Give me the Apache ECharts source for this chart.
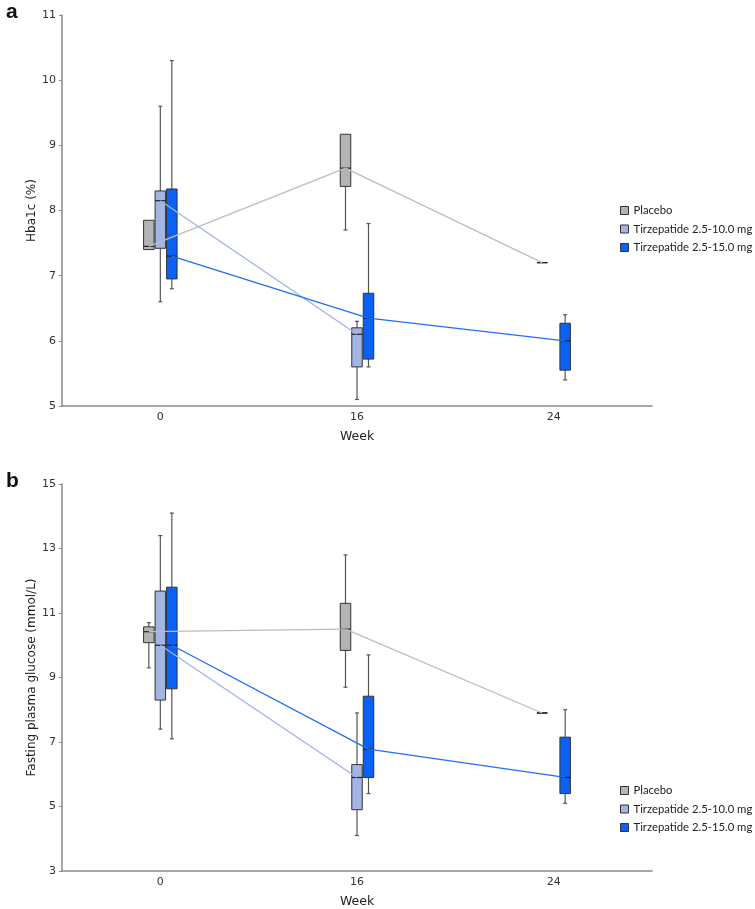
<!DOCTYPE html>
<html><head><meta charset="utf-8">
<script src="https://cdn.jsdelivr.net/npm/echarts@6/dist/echarts.min.js"></script>
<style>html,body{margin:0;padding:0;background:#fff}#c{width:755px;height:909px}</style>
</head><body><div id="c"></div>
<script>
const weeks = ['0', '16', '24'];
const groups = ['Placebo', 'Tirzepatide 2.5-10.0 mg', 'Tirzepatide 2.5-15.0 mg'];
// rows: [weekIndex, min, Q1, median, Q3, max]
const hbaPlacebo = [[0, 7.4, 7.4, 7.45, 7.85, 7.85], [1, 7.7, 8.37, 8.65, 9.17, 9.17], [2, 7.2, 7.2, 7.2, 7.2, 7.2]];
const hbaLow     = [[0, 6.6, 7.42, 8.15, 8.3, 9.6], [1, 5.1, 5.6, 6.1, 6.2, 6.3]];
const hbaHigh    = [[0, 6.8, 6.95, 7.3, 8.33, 10.3], [1, 5.6, 5.72, 6.35, 6.73, 7.8], [2, 5.4, 5.55, 6.0, 6.27, 6.4]];
const fpgPlacebo = [[0, 9.3, 10.08, 10.42, 10.57, 10.7], [1, 8.7, 9.84, 10.5, 11.3, 12.8], [2, 7.9, 7.9, 7.9, 7.9, 7.9]];
const fpgLow     = [[0, 7.4, 8.3, 10.0, 11.68, 13.4], [1, 4.1, 4.9, 5.9, 6.3, 7.9]];
const fpgHigh    = [[0, 7.1, 8.65, 10.0, 11.8, 14.1], [1, 5.4, 5.9, 6.78, 8.42, 9.7], [2, 5.1, 5.4, 5.9, 7.15, 8.0]];
const hbaAxis = {min: 5, max: 11, interval: 1, name: 'Hba1c (%)'};
const fpgAxis = {min: 3, max: 15, interval: 2, name: 'Fasting plasma glucose (mmol/L)'};

const fills = ['#b4b4b6', '#a3b5e3', '#0a62f5'];
const lineColors = ['#bdbdbd', '#9db4e8', '#1f6ff0'];
const offsets = [-11.5, 0, 11.5];
const BOXW = 10.5;

function boxRender(offset) {
  return function (params, api) {
    const x = api.value(0);
    const c = v => { const p = api.coord([x, v]); return [p[0] + offset, p[1]]; };
    const mn = c(api.value(1)), q1 = c(api.value(2)), md = c(api.value(3)), q3 = c(api.value(4)), mx = c(api.value(5));
    const cx = mn[0], w = BOXW / 2, cap = 2;
    const style = api.style();
    const wh = {stroke: '#555', lineWidth: 1.2};
    const ch = [];
    if (mx[1] < q3[1] - 0.5) {
      ch.push({type: 'line', shape: {x1: cx, y1: q3[1], x2: cx, y2: mx[1]}, style: wh});
      ch.push({type: 'line', shape: {x1: cx - cap, y1: mx[1], x2: cx + cap, y2: mx[1]}, style: wh});
    }
    if (mn[1] > q1[1] + 0.5) {
      ch.push({type: 'line', shape: {x1: cx, y1: q1[1], x2: cx, y2: mn[1]}, style: wh});
      ch.push({type: 'line', shape: {x1: cx - cap, y1: mn[1], x2: cx + cap, y2: mn[1]}, style: wh});
    }
    ch.push({type: 'rect', shape: {x: cx - w, y: q3[1], width: 2 * w, height: Math.max(q1[1] - q3[1], 0)},
      style: {fill: style.fill, stroke: '#333', lineWidth: 1}});
    ch.push({type: 'line', shape: {x1: cx - w, y1: md[1], x2: cx + w, y2: md[1]}, style: {stroke: '#222', lineWidth: 1.2}});
    return {type: 'group', children: ch};
  };
}
function lineRender(pts, offset, color) {
  return function (params, api) {
    const i = params.dataIndex;
    if (i === 0) return null;
    const a = api.coord([pts[i - 1][0], pts[i - 1][3]]);
    const b = api.coord([pts[i][0], pts[i][3]]);
    return {type: 'line', shape: {x1: a[0] + offset, y1: a[1], x2: b[0] + offset, y2: b[1]},
      style: {stroke: color, lineWidth: 1.3}};
  };
}

const panels = [
  {sets: [hbaPlacebo, hbaLow, hbaHigh], axis: hbaAxis, top: 15},
  {sets: [fpgPlacebo, fpgLow, fpgHigh], axis: fpgAxis, top: 484}
];
const grid = [], xAxis = [], yAxis = [], series = [], legend = [];
const tickFont = {fontFamily: 'DejaVu Sans', fontSize: 11, color: '#333'};
panels.forEach((p, k) => {
  grid.push({left: 62, right: 103, top: p.top, height: 391});
  xAxis.push({type: 'category', gridIndex: k, data: weeks, boundaryGap: true,
    axisLine: {lineStyle: {color: '#8a8a8a', width: 1.5}}, axisTick: {show: false},
    axisLabel: Object.assign({margin: 6}, tickFont),
    name: 'Week', nameLocation: 'middle', nameGap: 24, nameMoveOverlap: false,
    nameTextStyle: {fontFamily: 'DejaVu Sans', fontSize: 12.5, color: '#222'}});
  yAxis.push({type: 'value', gridIndex: k, min: p.axis.min, max: p.axis.max, interval: p.axis.interval,
    axisLine: {show: true, lineStyle: {color: '#8a8a8a', width: 1.5}},
    axisTick: {show: true, length: 3, lineStyle: {color: '#8a8a8a'}},
    splitLine: {show: false}, axisLabel: Object.assign({margin: 6}, tickFont),
    name: p.axis.name, nameLocation: 'middle', nameGap: 24, nameRotate: 90, nameMoveOverlap: false,
    nameTextStyle: {fontFamily: 'DejaVu Sans', fontSize: 12, color: '#222'}});
  p.sets.forEach((d, g) => {
    series.push({type: 'custom', name: groups[g], xAxisIndex: k, yAxisIndex: k, data: d,
      encode: {x: 0, y: [1, 2, 3, 4, 5]}, itemStyle: {color: fills[g], borderColor: '#333', borderWidth: 1},
      renderItem: boxRender(offsets[g]), silent: true, z: 2});
  });
  p.sets.forEach((d, g) => {
    series.push({type: 'custom', name: 'line' + k + g, xAxisIndex: k, yAxisIndex: k, data: d,
      encode: {x: 0, y: 3}, renderItem: lineRender(d, offsets[g], lineColors[g]), silent: true, z: 3});
  });
});
const legendBase = {data: groups, orient: 'vertical', left: 615, itemWidth: 8, itemHeight: 8, itemGap: 7.5,
  icon: 'rect', itemStyle: {borderColor: '#333', borderWidth: 1},
  textStyle: {fontFamily: 'Lato', fontSize: 11.3, color: '#222'}, selectedMode: false};
legend.push(Object.assign({top: 200}, legendBase));
legend.push(Object.assign({top: 780}, legendBase));

const chart = echarts.init(document.getElementById('c'), null, {renderer: 'canvas'});
chart.setOption({
  animation: false, backgroundColor: '#fff',
  title: [
    {text: 'a', left: 1, top: -3, textStyle: {fontFamily: 'Liberation Sans', fontSize: 21, fontWeight: 'bold', color: '#111'}},
    {text: 'b', left: 1, top: 466, textStyle: {fontFamily: 'Liberation Sans', fontSize: 21, fontWeight: 'bold', color: '#111'}}
  ],
  grid, xAxis, yAxis, series, legend
});
</script></body></html>
